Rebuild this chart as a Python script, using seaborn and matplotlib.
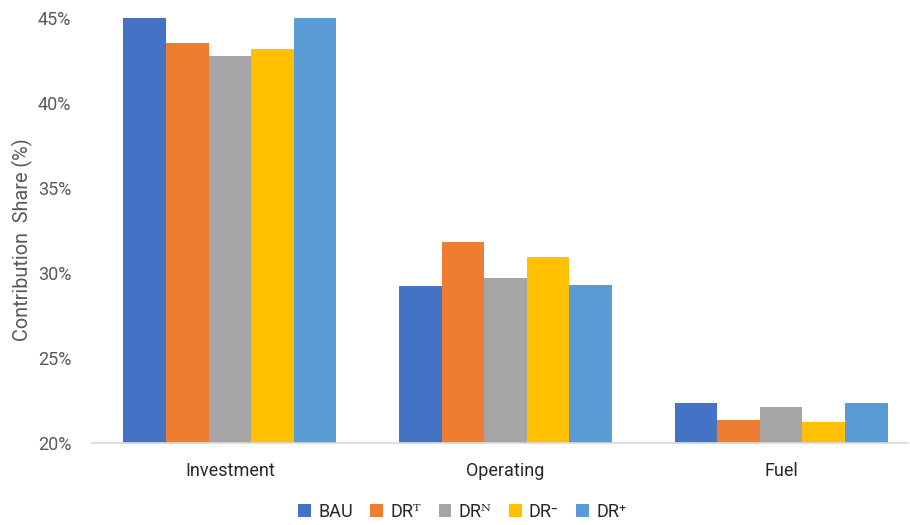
import matplotlib
matplotlib.use("Agg")
import matplotlib.pyplot as plt
from matplotlib.patches import Patch
import seaborn as sns
import pandas as pd

# Cost components and scenarios
categories = ["Investment", "Operating", "Fuel"]
scenarios = ["BAU", "DR\u1d40", "DR\u1d3a", "DR\u207b", "DR\u207a"]

# Contribution share (%) of each component per scenario
bau = [45.0, 29.25, 22.33]
dr_t = [43.53, 31.85, 21.35]
dr_n = [42.76, 29.7, 22.14]
dr_minus = [43.2, 30.96, 21.25]
dr_plus = [45.0, 29.3, 22.33]

yticks = [20, 25, 30, 35, 40, 45]
colors = ["#4472C4", "#ED7D31", "#A5A5A5", "#FFC000", "#5B9BD5"]

series = [bau, dr_t, dr_n, dr_minus, dr_plus]
rows = []
for name, vals in zip(scenarios, series):
    for cat, v in zip(categories, vals):
        rows.append({"component": cat, "scenario": name, "share": v})
df = pd.DataFrame(rows)

sns.set_theme(style="white")
plt.rcParams["font.family"] = ["Roboto", "DejaVu Serif", "DejaVu Sans"]

fig = plt.figure(figsize=(9.1, 5.25), dpi=100)
ax = fig.add_axes([92 / 910, 82 / 525, 816 / 910, 425 / 525])

sns.barplot(data=df, x="component", y="share", hue="scenario",
            order=categories, hue_order=scenarios, palette=colors,
            saturation=1, width=0.772, ax=ax, legend=False)

for p in ax.patches:
    p.set_edgecolor("none")

ax.set_ylim(20, 45)
ax.set_xlim(-0.5, 2.46)
ax.set_yticks(yticks)
ax.set_yticklabels([f"{t}%" for t in yticks])

text_color = "#595959"
ax.tick_params(axis="y", length=0, pad=15, labelsize=13, labelcolor=text_color)
ax.tick_params(axis="x", length=0, pad=14, labelsize=13, labelcolor="#262626")

for side in ["top", "right", "left"]:
    ax.spines[side].set_visible(False)
ax.spines["bottom"].set_color("#D9D9D9")
ax.spines["bottom"].set_linewidth(1.2)
ax.grid(False)

ax.set_xlabel("")
ax.set_ylabel("Contribution  Share (%)", fontsize=14.3, color=text_color)
ax.yaxis.set_label_coords(-0.072, 0.478)

handles = [Patch(facecolor=c, edgecolor="none") for c in colors]
fig.legend(handles, scenarios, loc="center", bbox_to_anchor=(0.508, 0.025),
           ncol=5, frameon=False, fontsize=13, handlelength=0.7,
           handleheight=0.7, handletextpad=0.4, columnspacing=0.98,
           labelcolor="#262626")

fig.savefig("out.png", dpi=100, facecolor="white")
